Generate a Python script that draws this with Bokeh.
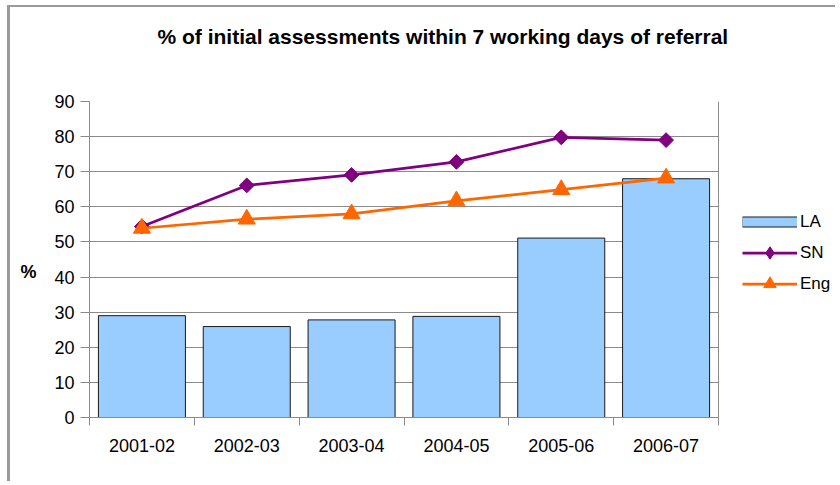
import numpy as np
from bokeh.plotting import figure
from bokeh.models import (Range1d, FixedTicker, Legend, LegendItem, Title, ColumnDataSource, Grid)
from bokeh.embed import file_html
from bokeh.resources import INLINE

years = ["2001-02", "2002-03", "2003-04", "2004-05", "2005-06", "2006-07"]
la = [29.0, 25.9, 27.8, 28.8, 51.1, 68.0]
sn = [54.4, 66.1, 69.1, 72.8, 79.8, 79.0]
eng = [53.9, 56.5, 58.0, 61.7, 64.9, 68.2]
y_ticks = [0, 10, 20, 30, 40, 50, 60, 70, 80, 90]

FONT = "Liberation Sans"
GRAY = "#8a8a8a"

n = len(years)
centers = [i + 0.5 for i in range(n)]
edges = list(range(n + 1))
src = ColumnDataSource(dict(x=centers, la=la, sn=sn, eng=eng, year=years))

# plot area spans the categories; the extra room on the right holds the legend
x_end = n * (828 - 79) / (708 - 79)
p = figure(width=828, height=476, output_backend="svg", toolbar_location=None,
           x_range=Range1d(0, x_end), y_range=Range1d(y_ticks[0], y_ticks[-1]),
           min_border_left=79, min_border_right=0, min_border_top=94, min_border_bottom=66)
p.styles = {"margin-left": "10px", "margin-top": "7px", "box-shadow": "-3px -2px 0 0 #9a9a9a"}

p.title.text = "% of initial assessments within 7 working days of referral"
p.title.text_font = FONT
p.title.text_font_size = "21px"
p.title.text_font_style = "bold"
p.title.align = "left"
p.title.offset = 68
p.title.standoff = 2
p.title.text_color = "#000000"

# spacer between title and plot area
p.add_layout(Title(text=" ", text_font_size="1px", standoff=50), "above")

p.background_fill_color = "white"
p.border_fill_color = "white"
p.outline_line_color = None

# axes
xa = p.xaxis[0]
xa.bounds = (0, n)
xa.ticker = FixedTicker(ticks=centers, minor_ticks=edges)
xa.major_label_overrides = {c: y for c, y in zip(centers, years)}
xa.major_tick_out = 0
xa.major_tick_in = 0
xa.minor_tick_out = 8
xa.minor_tick_in = 0
xa.minor_tick_line_color = GRAY
xa.axis_line_color = GRAY
xa.major_label_text_font = FONT
xa.major_label_text_font_size = "18px"
xa.major_label_text_color = "#000000"
xa.major_label_standoff = 13

ya = p.yaxis[0]
ya.ticker = FixedTicker(ticks=y_ticks)
ya.major_tick_out = 9
ya.major_tick_in = 0
ya.minor_tick_out = 0
ya.minor_tick_in = 0
ya.major_tick_line_color = GRAY
ya.axis_line_color = GRAY
ya.major_label_text_font = FONT
ya.major_label_text_font_size = "18px"
ya.major_label_text_color = "#000000"
ya.major_label_standoff = 6
ya.axis_label = "\n%"
ya.axis_label_orientation = "horizontal"
ya.axis_label_text_font = FONT
ya.axis_label_text_font_size = "18px"
ya.axis_label_text_font_style = "bold"
ya.axis_label_text_color = "#000000"
ya.axis_label_standoff = 15

p.xgrid.visible = False
if "cross_bounds" in Grid.properties():
    p.ygrid.grid_line_color = GRAY
    p.ygrid.grid_line_width = 1
    p.ygrid.cross_bounds = (0, n)
else:
    p.ygrid.visible = False
    p.segment(x0=0, x1=n, y0=y_ticks, y1=y_ticks, line_color=GRAY, line_width=1)
# right edge of the plot area
p.add_layout(Grid(dimension=0, ticker=FixedTicker(ticks=[n]), grid_line_color=GRAY,
                  grid_line_width=1))

# bars
bars = p.vbar(x="x", top="la", width=0.83, source=src, fill_color="#99CCFF",
              line_color="#1a1a1a", line_width=1)

# SN line
sn_line = p.line(x="x", y="sn", source=src, line_color="#800080", line_width=2.75)
p.scatter(x="x", y="sn", source=src, marker="square", angle=0.785398, size=10.5,
          fill_color="#800080", line_color="#800080")
# Eng line
eng_line = p.line(x="x", y="eng", source=src, line_color="#FF6600", line_width=2.75)
p.scatter(x="x", y="eng", source=src, marker="triangle", size=17,
          fill_color="#FF6600", line_color="#FF6600")

# legend-only renderers (NaN positions: nothing drawn on the plot)
nan = np.array([np.nan])
la_edge = p.line(x=nan, y=nan, line_color="#1a1a1a", line_width=11)
la_fill = p.line(x=nan, y=nan, line_color="#99CCFF", line_width=9)
sn_mark = p.scatter(x=nan, y=nan, marker="diamond", fill_color="#800080", line_color="#800080")
eng_mark = p.scatter(x=nan, y=nan, marker="triangle", fill_color="#FF6600", line_color="#FF6600")

legend = Legend(items=[LegendItem(label="LA", renderers=[la_edge, la_fill]),
                       LegendItem(label="SN", renderers=[sn_line, sn_mark]),
                       LegendItem(label="Eng", renderers=[eng_line, eng_mark])],
                location=(653, 118), glyph_width=55, glyph_height=31, label_height=31,
                label_standoff=3, padding=0, margin=0, spacing=0,
                border_line_color=None, background_fill_alpha=0,
                label_text_font=FONT, label_text_font_size="17px", label_text_color="#000000")
p.add_layout(legend, "center")

open("out.html", "w").write(file_html(p, INLINE))
